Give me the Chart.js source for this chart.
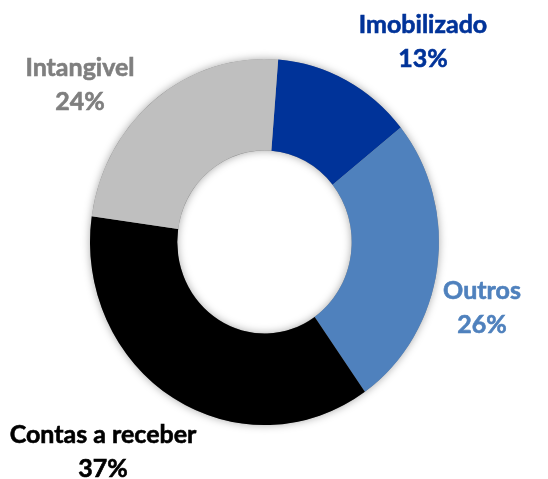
<!DOCTYPE html>
<html>
<head>
<meta charset="utf-8">
<script src="https://cdn.jsdelivr.net/npm/chart.js@4/dist/chart.umd.min.js"></script>
<style>
  html, body { margin: 0; padding: 0; background: #fff; }
  #wrap { width: 548px; height: 479px; }
</style>
</head>
<body>
<div id="wrap"><canvas id="grafico" width="548" height="479"></canvas></div>
<script>
const categorias = ['Imobilizado', 'Outros', 'Contas a receber', 'Intangivel'];
const valores = [13, 26, 37, 24];
const cores = ['#003399', '#4f81bd', '#000000', '#bfbfbf'];
const coresTexto = ['#003399', '#4f81bd', '#000000', '#7f7f7f'];

// onde fica o centro de cada rótulo (x, y da primeira linha)
const posRotulos = [[423, 25], [482, 291], [103, 435], [80, 68]];
const esticaY = 1.049;

const sombraPlugin = {
  id: 'sombra',
  beforeDatasetsDraw(chart) {
    const arc = chart.getDatasetMeta(0).data[0];
    const ctx = chart.ctx;
    ctx.save();
    ctx.translate(arc.x, arc.y);
    ctx.scale(1, esticaY);
    ctx.translate(-arc.x, -arc.y);
    // sombra do anel inteiro
    ctx.save();
    ctx.shadowColor = 'rgba(0,0,0,0.35)';
    ctx.shadowBlur = 8;
    ctx.fillStyle = '#888';
    ctx.beginPath();
    ctx.arc(arc.x, arc.y, arc.outerRadius, 0, Math.PI * 2);
    ctx.arc(arc.x, arc.y, arc.innerRadius, 0, Math.PI * 2, true);
    ctx.fill();
    ctx.restore();
  },
  afterDatasetsDraw(chart) {
    chart.ctx.restore();
  }
};

const rotulosPlugin = {
  id: 'rotulos',
  afterDraw(chart) {
    const ctx = chart.ctx;
    ctx.save();
    ctx.font = 'bold 25px Lato';
    ctx.textAlign = 'center';
    ctx.textBaseline = 'middle';
    categorias.forEach(function (nome, i) {
      const p = posRotulos[i];
      ctx.fillStyle = coresTexto[i];
      // um traço fino por cima deixa o texto mais pesado, perto do Calibri bold
      ctx.strokeStyle = coresTexto[i];
      ctx.lineWidth = 0.6;
      ctx.fillText(nome, p[0], p[1]);
      ctx.strokeText(nome, p[0], p[1]);
      ctx.fillText(valores[i] + '%', p[0], p[1] + 34);
      ctx.strokeText(valores[i] + '%', p[0], p[1] + 34);
    });
    ctx.restore();
  }
};

const ctx = document.getElementById('grafico').getContext('2d');

const myChart = new Chart(ctx, {
  type: 'doughnut',
  data: {
    labels: categorias,
    datasets: [{
      data: valores,
      backgroundColor: cores,
      borderWidth: 0,
      hoverOffset: 0
    }]
  },
  options: {
    responsive: false,
    animation: false,
    rotation: 4.5,
    cutout: '50%',
    radius: 174.5,
    layout: { padding: { left: 0, right: 19, top: 5, bottom: 0 } },
    plugins: {
      legend: { display: false },
      tooltip: { enabled: false }
    }
  },
  plugins: [sombraPlugin, rotulosPlugin]
});
</script>
</body>
</html>
